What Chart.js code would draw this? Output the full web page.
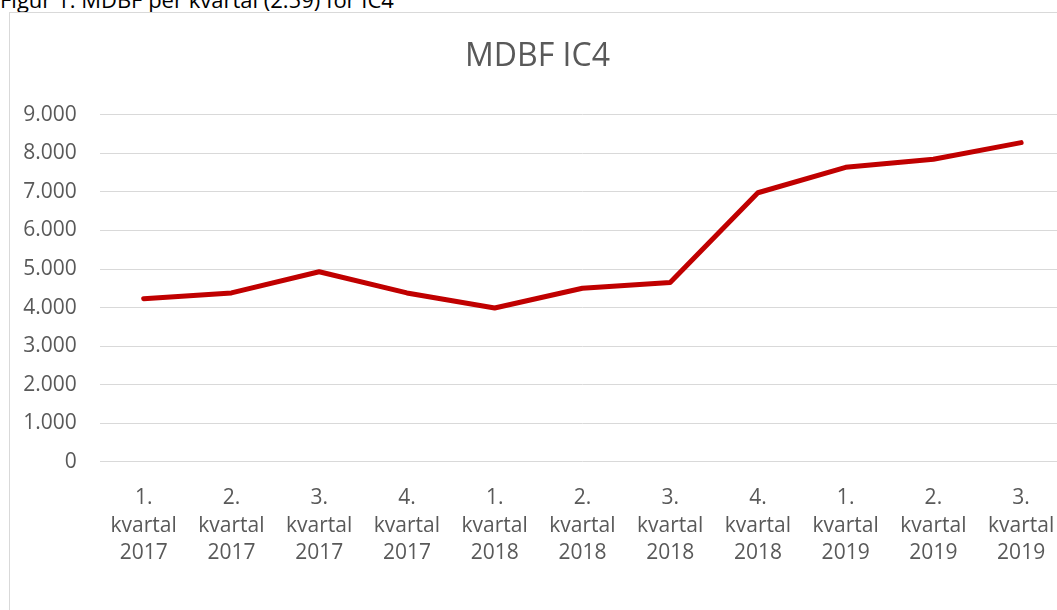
<!DOCTYPE html>
<html>
<head>
<meta charset="utf-8">
<script src="https://cdn.jsdelivr.net/npm/chart.js@4.4.1/dist/chart.umd.min.js"></script>
<style>
  html,body{margin:0;padding:0;background:#fff;overflow:hidden;width:1057px;height:610px}
  .caption{position:absolute;left:0;top:-12px;font:22px "Open Sans",sans-serif;line-height:22px;color:#000;white-space:nowrap}
  .chart-box{position:absolute;left:9px;top:12px;width:1055px;height:597px;border:1px solid #d9d9d9;background:#fff}
</style>
</head>
<body>
<div class="caption">Figur 1: MDBF per kvartal (2.59) for IC4</div>
<div class="chart-box"><canvas id="mdbf" width="1055" height="597"></canvas></div>
<script>
const quarters = ['1.', '2.', '3.', '4.', '1.', '2.', '3.', '4.', '1.', '2.', '3.'];
const years = ['2017', '2017', '2017', '2017', '2018', '2018', '2018', '2018', '2019', '2019', '2019'];
const mdbfValues = [4230, 4380, 4930, 4380, 3990, 4500, 4650, 6980, 7640, 7850, 8280];
const yTicks = [0, 1000, 2000, 3000, 4000, 5000, 6000, 7000, 8000, 9000];

const labels = quarters.map((q, i) => [q, 'kvartal', years[i]]);
const fmt = v => String(v).replace(/\B(?=(\d{3})+(?!\d))/g, '.');
const font = {family: '"Open Sans", sans-serif', size: 21};

new Chart(document.getElementById('mdbf'), {
  type: 'line',
  data: {labels, datasets: [{label: 'MDBF IC4', data: mdbfValues, borderColor: '#c00000', borderWidth: 5,
    borderCapStyle: 'round', borderJoinStyle: 'round', tension: 0, pointRadius: 0, fill: false}]},
  options: {
    animation: false, responsive: false,
    layout: {padding: {left: 0, right: 0, top: 0, bottom: 45.8}},
    plugins: {
      legend: {display: false}, tooltip: {enabled: false},
      title: {display: true, text: 'MDBF IC4', color: '#595959', font: {family: '"Open Sans", sans-serif', size: 32, weight: 'normal'}, padding: {top: 25, bottom: 38.5}}
    },
    scales: {
      x: {offset: true, grid: {display: false, drawTicks: false}, border: {display: false},
        afterFit: s => { s.height = 102.5; s.paddingLeft = 0; s.paddingRight = 0; },
        ticks: {color: '#595959', font: {...font, lineHeight: 1.31}, padding: 23, maxRotation: 0, autoSkip: false}},
      y: {min: 0, max: 9000, afterBuildTicks: axis => { axis.ticks = yTicks.map(v => ({value: v})); },
        afterFit: s => { s.width = 89.8; },
        grid: {color: '#d9d9d9', lineWidth: 1, drawTicks: false}, border: {display: false},
        ticks: {color: '#595959', font, padding: 23, callback: v => fmt(v)}}
    }
  }
});
</script>
</body>
</html>
